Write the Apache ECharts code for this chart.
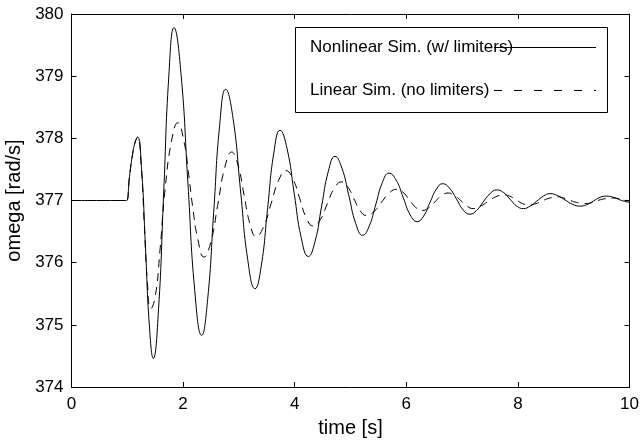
<!DOCTYPE html>
<html>
<head>
<meta charset="utf-8">
<title>omega response</title>
<script src="https://cdn.jsdelivr.net/npm/echarts@6/dist/echarts.min.js"></script>
<style>
  html, body { margin: 0; padding: 0; background: #fff; }
  #chart { width: 640px; height: 443px; }
</style>
</head>
<body>
<div id="chart"></div>
<script>
// nonlinear simulation (w/ limiters) - solid line
const nlTime = [0, 0.97, 0.99, 1.04, 1.09, 1.14, 1.186, 1.256, 1.326, 1.396, 1.466, 1.559, 1.652, 1.744, 1.837,
  1.961, 2.085, 2.209, 2.333, 2.44, 2.548, 2.655, 2.763, 2.895, 3.026, 3.158, 3.289, 3.401, 3.513, 3.625, 3.737,
  3.864, 3.99, 4.117, 4.244, 4.364, 4.483, 4.603, 4.722, 4.846, 4.97, 5.094, 5.218, 5.336, 5.454, 5.572, 5.69,
  5.817, 5.944, 6.07, 6.197, 6.311, 6.425, 6.538, 6.652, 6.774, 6.896, 7.018, 7.14, 7.26, 7.38, 7.5, 7.62,
  7.74, 7.86, 7.98, 8.1, 8.219, 8.338, 8.456, 8.575, 8.709, 8.843, 8.976, 9.11, 9.23, 9.35, 9.47, 9.59,
  9.72, 9.86, 10];
const nlOmega = [377, 377, 377, 377.39, 377.72, 377.94, 378.02, 377.5, 376.24, 374.98, 374.46, 375.24, 377.12, 379.0, 379.78,
  379.05, 377.3, 375.55, 374.83, 375.41, 376.81, 378.21, 378.79, 378.32, 377.19, 376.05, 375.58, 375.95, 376.86, 377.76, 378.13,
  377.83, 377.12, 376.4, 376.1, 376.34, 376.91, 377.47, 377.71, 377.52, 377.08, 376.63, 376.44, 376.59, 376.94, 377.29, 377.44,
  377.33, 377.05, 376.77, 376.66, 376.75, 376.97, 377.18, 377.27, 377.2, 377.03, 376.85, 376.78, 376.84, 376.98, 377.11, 377.17,
  377.13, 377.02, 376.91, 376.87, 376.91, 376.99, 377.07, 377.11, 377.08, 377.01, 376.94, 376.91, 376.93, 376.99, 377.05, 377.07,
  377.05, 377.0, 376.97];

// linear simulation (no limiters) - dashed line
const linTime = [0, 0.97, 0.99, 1.04, 1.09, 1.14, 1.186, 1.245, 1.303, 1.362, 1.42, 1.5, 1.586, 1.676, 1.795, 1.903,
  2.02, 2.09, 2.18, 2.257, 2.375, 2.499, 2.623, 2.747, 2.871, 2.981, 3.09, 3.2, 3.31, 3.444, 3.577, 3.711, 3.844,
  3.966, 4.087, 4.209, 4.33, 4.458, 4.585, 4.713, 4.84, 4.95, 5.06, 5.17, 5.28, 5.418, 5.555, 5.693, 5.83,
  5.943, 6.055, 6.168, 6.28, 6.398, 6.515, 6.633, 6.75, 6.863, 6.975, 7.088, 7.2, 7.335, 7.47, 7.605, 7.74,
  7.855, 7.97, 8.085, 8.2, 8.325, 8.45, 8.575, 8.7, 8.82, 8.94, 9.05, 9.17, 9.3, 9.43, 9.57, 9.7, 9.85, 10];
const linOmega = [377, 377, 377, 377.39, 377.72, 377.94, 378.02, 377.62, 376.64, 375.66, 375.26, 375.45, 376.2, 377.17, 377.97, 378.25,
  377.93, 377.49, 376.84, 376.41, 376.09, 376.34, 376.94, 377.53, 377.78, 377.58, 377.1, 376.62, 376.42, 376.58, 376.95, 377.32, 377.48,
  377.35, 377.04, 376.72, 376.59, 376.69, 376.95, 377.2, 377.3, 377.22, 377.03, 376.84, 376.76, 376.82, 376.97, 377.12, 377.18,
  377.13, 377.01, 376.89, 376.84, 376.88, 376.98, 377.08, 377.12, 377.08, 377.0, 376.91, 376.87, 376.91, 376.99, 377.06, 377.09,
  377.07, 377.01, 376.95, 376.93, 376.95, 377.0, 377.04, 377.06, 377.04, 377.0, 376.97, 376.95, 376.96, 377.0, 377.03, 377.04, 377.02, 376.99];

const legendNames = ['Nonlinear Sim. (w/ limiters)', 'Linear Sim. (no limiters)'];

const FONT = '"Liberation Sans", Arial, Helvetica, sans-serif';
const INK = '#000';

function pairs(xs, ys) {
  return xs.map((x, i) => [x, ys[i]]);
}

const chart = echarts.init(document.getElementById('chart'), null, { renderer: 'canvas' });

// axis with inward ticks, matlab "box on" look
const baseAxis = {
  type: 'value',
  axisLine: { show: true, onZero: false, lineStyle: { color: INK, width: 1 } },
  axisTick: { show: true, inside: true, length: 5, lineStyle: { color: INK } },
  splitLine: { show: false },
};

const option = {
  backgroundColor: '#fff',
  animation: false,
  // fixed plot box, don't let labels push it around
  grid: { left: 71.5, right: 10.5, top: 14, bottom: 56, containLabel: false, outerBoundsMode: 'none' },
  xAxis: [
    Object.assign({}, baseAxis, {
      min: 0, max: 10, interval: 2,
      position: 'bottom',
      name: 'time [s]',
      nameLocation: 'middle',
      nameGap: 31,
      nameTextStyle: { color: INK, fontSize: 20, fontFamily: FONT },
      axisLabel: { color: INK, fontSize: 17, fontFamily: FONT, margin: 9 },
    }),
    Object.assign({}, baseAxis, {
      min: 0, max: 10, interval: 2,
      position: 'top',
      axisLabel: { show: false },
    }),
  ],
  yAxis: [
    Object.assign({}, baseAxis, {
      min: 374, max: 380, interval: 1,
      position: 'left',
      name: 'omega [rad/s]',
      nameLocation: 'middle',
      nameGap: 44,
      nameTextStyle: { color: INK, fontSize: 20, fontFamily: FONT },
      axisLabel: { color: INK, fontSize: 17, fontFamily: FONT, margin: 8 },
    }),
    Object.assign({}, baseAxis, {
      min: 374, max: 380, interval: 1,
      position: 'right',
      axisLabel: { show: false },
    }),
  ],
  series: [
    {
      name: legendNames[0],
      type: 'line',
      data: pairs(nlTime, nlOmega),
      smooth: 0.5,
      showSymbol: false,
      lineStyle: { color: INK, width: 1 },
    },
    {
      name: legendNames[1],
      type: 'line',
      data: pairs(linTime, linOmega),
      smooth: 0.5,
      showSymbol: false,
      lineStyle: { color: INK, width: 1, type: [8, 6] },
    },
  ],
  // matlab style legend: text first, line sample after it
  graphic: [
    {
      type: 'rect',
      shape: { x: 295.5, y: 27.5, width: 312, height: 85 },
      style: { fill: '#fff', stroke: INK, lineWidth: 1 },
      z: 10,
    },
    {
      type: 'text',
      left: 310, top: 39,
      style: { text: legendNames[0], fill: INK, font: '17px ' + FONT },
      z: 11,
    },
    {
      type: 'text',
      left: 310, top: 82,
      style: { text: legendNames[1], fill: INK, font: '17px ' + FONT },
      z: 11,
    },
    {
      type: 'line',
      shape: { x1: 494, y1: 47.5, x2: 596, y2: 47.5 },
      style: { stroke: INK, lineWidth: 1 },
      z: 12,
    },
    {
      type: 'line',
      shape: { x1: 494, y1: 90.5, x2: 596, y2: 90.5 },
      style: { stroke: INK, lineWidth: 1, lineDash: [8, 12] },
      z: 12,
    },
  ],
};

chart.setOption(option);
</script>
</body>
</html>
